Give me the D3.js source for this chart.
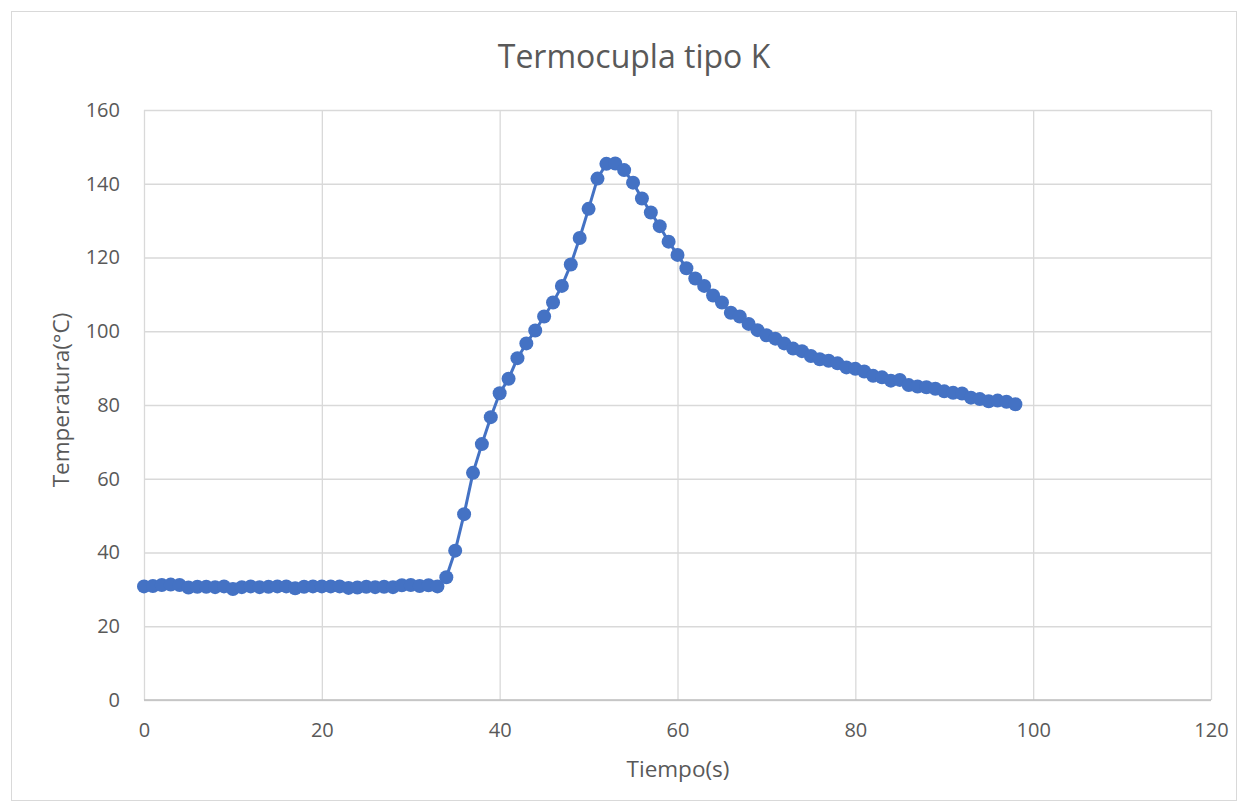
<!DOCTYPE html>
<html>
<head>
<meta charset="utf-8">
<script src="https://cdn.jsdelivr.net/npm/d3@7"></script>
<style>
  html, body { margin: 0; padding: 0; background: #fff; }
  svg { display: block; }
  text { font-family: "Open Sans", "Liberation Sans", sans-serif; fill: #595959; }
</style>
</head>
<body>
<svg id="chart" width="1248" height="812"></svg>
<script>
const title = "Termocupla tipo K";
const xTitle = "Tiempo(s)";
const yTitle = "Temperatura(°C)";
const xTicks = [0, 20, 40, 60, 80, 100, 120];
const yTicks = [0, 20, 40, 60, 80, 100, 120, 140, 160];
const tiempo = d3.range(0, 99);
const temperatura = [
  30.8, 30.9, 31.2, 31.3, 31.2, 30.5, 30.7, 30.7, 30.6, 30.8,
  30.1, 30.6, 30.8, 30.6, 30.7, 30.8, 30.8, 30.3, 30.7, 30.8,
  30.8, 30.8, 30.8, 30.4, 30.5, 30.7, 30.6, 30.7, 30.6, 31.1,
  31.2, 30.9, 31.1, 30.8, 33.3, 40.5, 50.4, 61.6, 69.4, 76.7,
  83.2, 87.1, 92.7, 96.7, 100.2, 104.0, 107.8, 112.3, 118.1, 125.3,
  133.2, 141.4, 145.4, 145.5, 143.7, 140.3, 136.0, 132.2, 128.5, 124.3,
  120.7, 117.1, 114.3, 112.3, 109.7, 107.8, 105.0, 104.0, 102.0, 100.3,
  98.9, 98.0, 96.7, 95.3, 94.6, 93.3, 92.4, 92.0, 91.3, 90.2,
  89.8, 89.1, 87.9, 87.5, 86.6, 86.8, 85.4, 85.0, 84.8, 84.4,
  83.7, 83.3, 83.1, 82.0, 81.6, 81.0, 81.2, 80.9, 80.2
];

const svg = d3.select("#chart");
const plot = { left: 144, right: 1211, top: 110, bottom: 700 };

svg.append("rect")
  .attr("x", 11.5).attr("y", 11.5)
  .attr("width", 1225).attr("height", 789)
  .attr("fill", "#fff").attr("stroke", "#d9d9d9").attr("stroke-width", 1);

const x = d3.scaleLinear().domain([0, 120]).range([plot.left, plot.right]);
const y = d3.scaleLinear().domain([0, 160]).range([plot.bottom, plot.top]);

// gridlines
const gx = svg.append("g")
  .attr("transform", `translate(0,${plot.bottom})`)
  .call(d3.axisBottom(x).tickValues(xTicks).tickSize(-(plot.bottom - plot.top)).tickFormat(""));
gx.select(".domain").remove();
gx.selectAll("line").attr("stroke", "#d9d9d9").attr("stroke-width", 1.3);

const gy = svg.append("g")
  .attr("transform", `translate(${plot.left},0)`)
  .call(d3.axisLeft(y).tickValues(yTicks).tickSize(-(plot.right - plot.left)).tickFormat(""));
gy.select(".domain").remove();
gy.selectAll("line").attr("stroke", "#d9d9d9").attr("stroke-width", 1.3);

// x axis line
svg.append("line").attr("x1", plot.left).attr("x2", plot.right)
  .attr("y1", plot.bottom).attr("y2", plot.bottom)
  .attr("stroke", "#bfbfbf").attr("stroke-width", 1.3);

// tick labels
const xl = svg.append("g")
  .attr("transform", `translate(0,${plot.bottom})`)
  .call(d3.axisBottom(x).tickValues(xTicks).tickSize(0).tickPadding(23));
xl.select(".domain").remove();
xl.selectAll("text").style("font-size", "20px").attr("fill", "#595959");

const yl = svg.append("g")
  .attr("transform", `translate(${plot.left},0)`)
  .call(d3.axisLeft(y).tickValues(yTicks).tickSize(0).tickPadding(24));
yl.select(".domain").remove();
yl.selectAll("text").style("font-size", "20px").attr("fill", "#595959");

// line + markers
const data = tiempo.map((t, i) => ({ t, v: temperatura[i] }));
svg.append("path")
  .datum(data)
  .attr("fill", "none")
  .attr("stroke", "#4472C4")
  .attr("stroke-width", 3)
  .attr("stroke-linejoin", "round")
  .attr("d", d3.line().x(d => x(d.t)).y(d => y(d.v)));

svg.append("g").selectAll("circle")
  .data(data).join("circle")
  .attr("cx", d => x(d.t)).attr("cy", d => y(d.v))
  .attr("r", 7)
  .attr("fill", "#4472C4");

// titles
svg.append("text")
  .attr("x", 634).attr("y", 68)
  .attr("text-anchor", "middle")
  .style("font-size", "32px")
  .text(title);

svg.append("text")
  .attr("x", 678).attr("y", 777)
  .attr("text-anchor", "middle")
  .style("font-size", "22.5px")
  .text(xTitle);

svg.append("text")
  .attr("transform", `translate(69,400) rotate(-90)`)
  .attr("text-anchor", "middle")
  .style("font-size", "22.5px")
  .text(yTitle);
</script>
</body>
</html>
